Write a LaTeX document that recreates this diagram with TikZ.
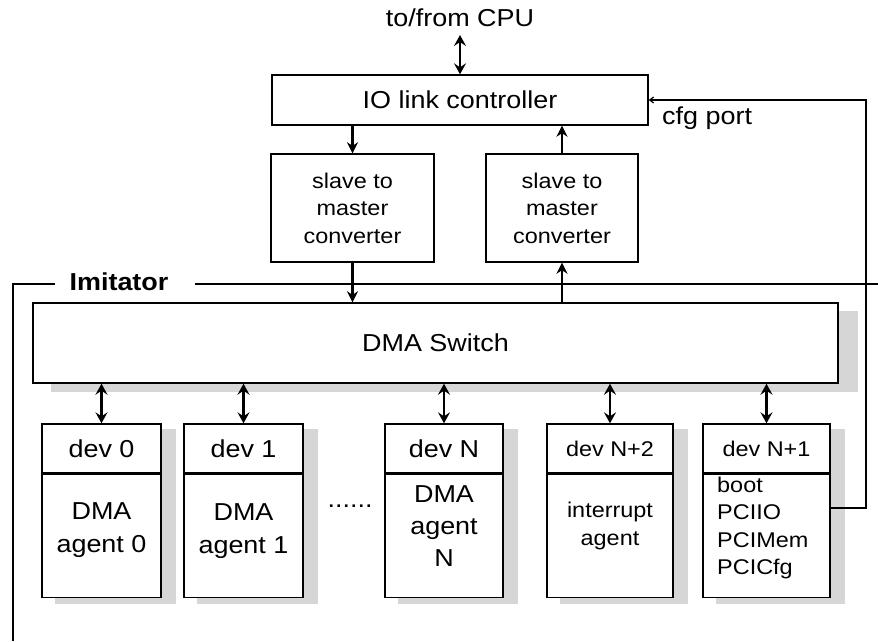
\documentclass[tikz,border=0pt]{standalone}
\usepackage{fontspec}
\setmainfont{Liberation Sans}[FakeStretch=1.1]
\usetikzlibrary{arrows.meta,backgrounds}
\newcommand{\bigf}{\fontsize{24.5}{33}\selectfont}
\newcommand{\smallf}{\fontsize{21.3}{27.5}\selectfont}
\begin{document}
\begin{tikzpicture}[x=1pt,y=-1pt,
  box/.style={draw, line width=1.4pt, fill=white, inner sep=0pt, align=center, font=\bigf},
  txt/.style={inner sep=0pt, align=center, font=\bigf},
  stxt/.style={inner sep=0pt, align=center, font=\smallf},
  shadowc/.style={fill=black!16},
  thickarr/.style={line width=2.6pt, -{Stealth[length=11pt,width=11pt,inset=3.5pt]}},
  dblarr/.style={line width=2.6pt, {Stealth[length=11pt,width=12pt,inset=4pt]}-{Stealth[length=11pt,width=12pt,inset=4pt]}},
  framel/.style={line width=2.8pt},
  cfgl/.style={line width=1.2pt, -{Straight Barb[length=4pt,width=6pt]}}
]
\useasboundingbox (0,0) rectangle (878,641);

% top part
\node[txt] (cpu) at (460,18) {to/from CPU};
\node[box, minimum width=376pt, minimum height=50pt] (io) at (460,100) {IO link controller};
\node[box, font=\smallf, minimum width=163pt, minimum height=108pt] (conv1) at (352.5,208) {slave to\\master\\converter};
\node[box, font=\smallf, minimum width=152pt, minimum height=108pt] (conv2) at (562,208) {slave to\\master\\converter};
\node[txt, anchor=west] (cfg) at (662,118) {cfg port};

\draw[dblarr] (cpu.south |- 0,35) -- (io.north);
\draw[thickarr] (io.south -| conv1.north) -- (conv1.north);
\draw[thickarr] (conv2.north) -- (io.south -| conv2.north);

% imitator frame
\coordinate (fa) at (55,284);
\coordinate (fb) at (13,641);
\coordinate (fc) at (195,284);
\coordinate (fd) at (878,284);
\draw[framel] (fa) -| (fb);
\draw[framel] (fc) -- (fd);
\node[txt, font=\bigf\bfseries] (imit) at (119,282) {Imitator};

% DMA switch
\node[box, minimum width=805pt, minimum height=80pt] (sw) at (435.5,343) {DMA Switch};
\draw[thickarr] (conv1.south) -- (conv1.south |- sw.north);
\draw[thickarr] (conv2.south |- sw.north) -- (conv2.south);

% device boxes
\foreach \n/\x/\w/\f/\lab in {d0/101.5/119/\bigf/dev 0, d1/243.5/119/\bigf/dev 1, dN/444/118/\bigf/dev N, dN2/610/126/\smallf/dev N+2, dN1/766.5/127/\smallf/dev N+1}{
  \node[box, font=\f, minimum width=\w pt, minimum height=49pt] (\n h) at (\x,448.5) {\lab};
  \node[box, minimum width=\w pt, minimum height=123pt, anchor=north] (\n b) at (\n h.south) {};
  \draw[dblarr] (sw.south -| \n h.north) -- (\n h.north);
}

\begin{scope}[on background layer]
  \fill[shadowc] ([shift={(19,9)}]sw.north west) rectangle ([shift={(19,8)}]sw.south east);
  \foreach \n in {d0,d1,dN,dN2,dN1}{
    \fill[shadowc] ([shift={(14,6)}]\n h.north west) rectangle ([shift={(14,6)}]\n b.south east);
  }
\end{scope}

\node[txt] (t0) at (101.5,530) {DMA\\agent 0};
\node[txt] (t1) at (243.5,531) {DMA\\agent 1};
\node[txt, font=\fontsize{24.5}{32}\selectfont] (tN) at (444,526) {DMA\\agent\\N};
\node[stxt] (tN2) at (610,526) {interrupt\\agent};
\node[stxt, align=left, anchor=west] (tN1) at (717,528) {boot\\PCIIO\\PCIMem\\PCICfg};
\node[txt] (dots) at (350,506) {......};

% cfg port line
\coordinate (c1) at (866,508);
\draw[cfgl] (dN1b.east |- c1) -- (c1) |- (io.east);
\end{tikzpicture}
\end{document}
